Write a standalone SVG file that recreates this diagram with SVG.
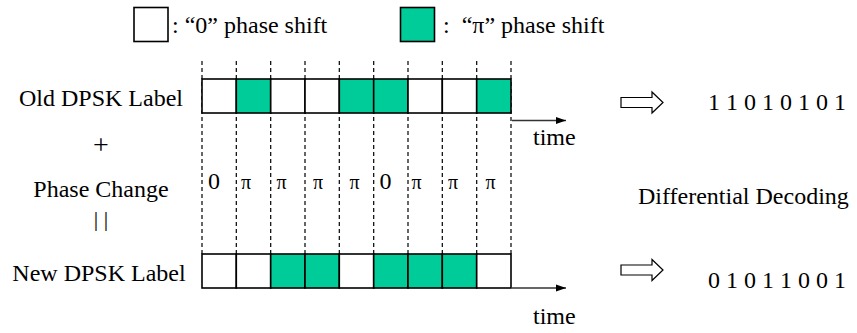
<svg xmlns="http://www.w3.org/2000/svg" width="857" height="333" viewBox="0 0 857 333">
<style>
text{font-family:"Liberation Serif","Times New Roman",serif;fill:#000;font-size:24px}
.c{stroke:#000;stroke-width:1.6}
.w{fill:#fff}
.g{fill:#00CC99}
.d{stroke:#000;stroke-width:1.2;stroke-dasharray:4,3;fill:none}
.ax{stroke:#333;stroke-width:1.6;fill:none}
.ho{fill:#fff;stroke:#000;stroke-width:1.2}
.pi{font-size:20px}
.mid{text-anchor:middle}
</style>
<defs>
<marker id="ah" viewBox="0 0 10 10" refX="10" refY="5" markerWidth="10" markerHeight="10" markerUnits="userSpaceOnUse" orient="auto">
<path d="M0,1.5 L10,5 L0,8.5 Z" fill="#000"/>
</marker>
</defs>

<g id="legend">
<rect class="c w" x="134" y="7.5" width="34" height="34"/>
<text x="172" y="33">: “0” phase shift</text>
<rect class="c g" x="400.5" y="7.5" width="34" height="34"/>
<text x="443" y="33" xml:space="preserve">:  “π” phase shift</text>
</g>

<g id="grid">
<line class="d" x1="202" y1="61" x2="202" y2="254"/>
<line class="d" x1="236.3" y1="61" x2="236.3" y2="254"/>
<line class="d" x1="270.7" y1="61" x2="270.7" y2="254"/>
<line class="d" x1="305" y1="61" x2="305" y2="254"/>
<line class="d" x1="339.3" y1="61" x2="339.3" y2="254"/>
<line class="d" x1="373.7" y1="61" x2="373.7" y2="254"/>
<line class="d" x1="408" y1="61" x2="408" y2="254"/>
<line class="d" x1="442.3" y1="61" x2="442.3" y2="254"/>
<line class="d" x1="476.7" y1="61" x2="476.7" y2="254"/>
<line class="d" x1="511" y1="61" x2="511" y2="254"/>
</g>

<g id="old-row">
<rect class="c w" x="202" y="79" width="34.3" height="34"/>
<rect class="c g" x="236.3" y="79" width="34.4" height="34"/>
<rect class="c w" x="270.7" y="79" width="34.3" height="34"/>
<rect class="c w" x="305" y="79" width="34.3" height="34"/>
<rect class="c g" x="339.3" y="79" width="34.4" height="34"/>
<rect class="c g" x="373.7" y="79" width="34.3" height="34"/>
<rect class="c w" x="408" y="79" width="34.3" height="34"/>
<rect class="c w" x="442.3" y="79" width="34.4" height="34"/>
<rect class="c g" x="476.7" y="79" width="34.3" height="34"/>
</g>

<g id="new-row">
<rect class="c w" x="202" y="254" width="34.3" height="34"/>
<rect class="c w" x="236.3" y="254" width="34.4" height="34"/>
<rect class="c g" x="270.7" y="254" width="34.3" height="34"/>
<rect class="c g" x="305" y="254" width="34.3" height="34"/>
<rect class="c w" x="339.3" y="254" width="34.4" height="34"/>
<rect class="c g" x="373.7" y="254" width="34.3" height="34"/>
<rect class="c g" x="408" y="254" width="34.3" height="34"/>
<rect class="c g" x="442.3" y="254" width="34.4" height="34"/>
<rect class="c w" x="476.7" y="254" width="34.3" height="34"/>
</g>

<g id="phase-labels">
<text x="208" y="189">0</text>
<text class="pi" x="241" y="189">π</text>
<text class="pi" x="276.5" y="189">π</text>
<text class="pi" x="313" y="189">π</text>
<text class="pi" x="349.5" y="189">π</text>
<text x="379.5" y="189">0</text>
<text class="pi" x="411.5" y="189">π</text>
<text class="pi" x="448" y="189">π</text>
<text class="pi" x="485.5" y="189">π</text>
</g>

<g id="left-labels">
<text class="mid" x="101" y="106">Old DPSK Label</text>
<text class="mid" x="101" y="154" style="font-size:28px">+</text>
<text class="mid" x="101" y="197">Phase Change</text>
<text class="mid" x="101" y="226" style="font-size:22px" xml:space="preserve">| |</text>
<text class="mid" x="99" y="281">New DPSK Label</text>
</g>

<g id="connectors">
<line class="ax" x1="512" y1="120.5" x2="566" y2="120.5" marker-end="url(#ah)"/>
<line class="ax" x1="512" y1="288" x2="566" y2="288" marker-end="url(#ah)"/>
<path class="ho" d="M621,97.5 L652,97.5 L652,92 L663,102.5 L652,113 L652,107.5 L621,107.5 Z"/>
<path class="ho" d="M621,265 L652,265 L652,259.5 L663,270 L652,280.5 L652,275 L621,275 Z"/>
</g>

<g id="right-labels">
<text x="533" y="145">time</text>
<text x="533" y="324">time</text>
<text x="708" y="110">1 1 0 1 0 1 0 1</text>
<text x="638" y="204">Differential Decoding</text>
<text x="708" y="288">0 1 0 1 1 0 0 1</text>
</g>
</svg>
